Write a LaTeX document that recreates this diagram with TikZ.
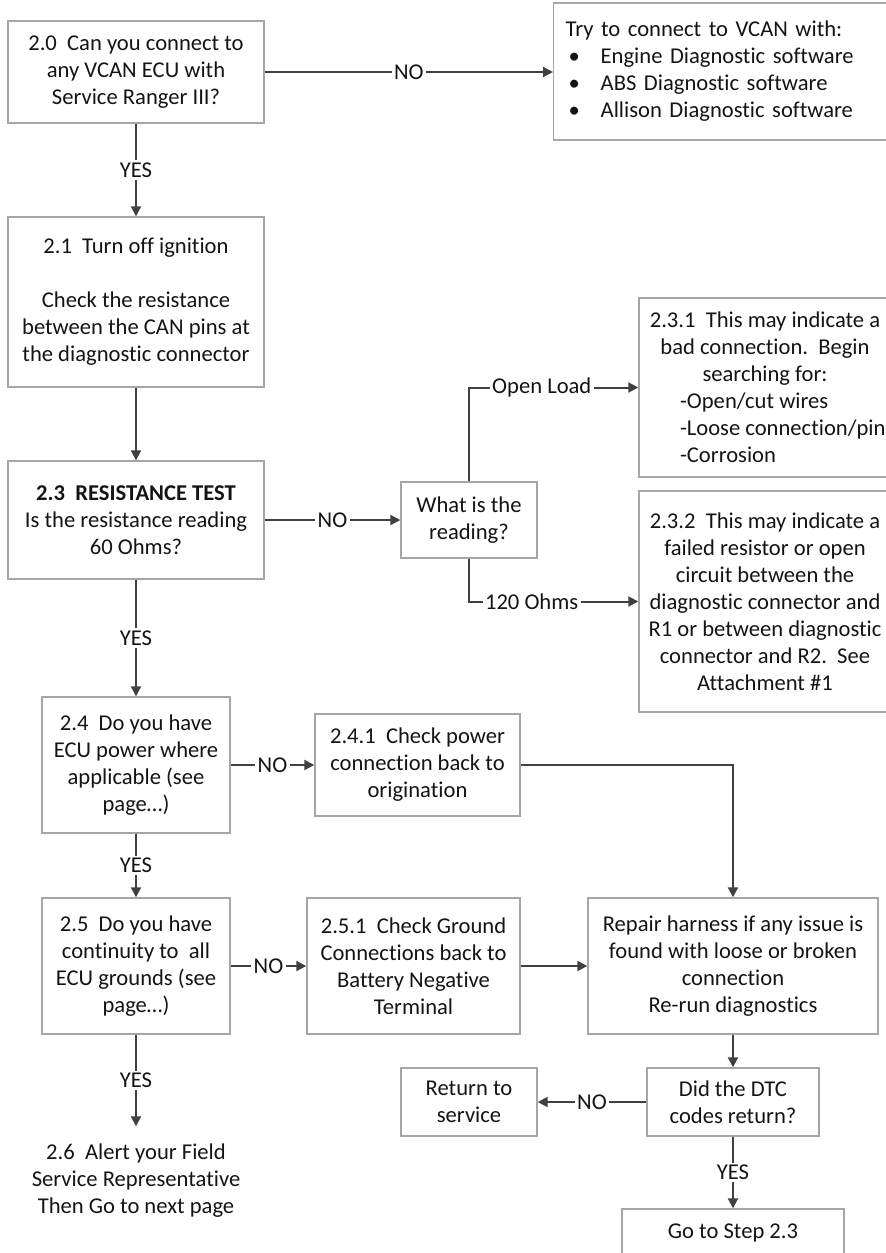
\documentclass[tikz,border=0pt]{standalone}
\usepackage{fontspec}
\setmainfont{Carlito}[Ligatures=CommonOff]
\usetikzlibrary{arrows.meta}
\definecolor{linegray}{HTML}{404040}
\definecolor{boxgray}{HTML}{A6A6A6}
\definecolor{txt}{HTML}{141414}
\def\bodyfont{\fontsize{11.3}{13.5}\selectfont}
\def\dashitem#1{\makebox[85pt][l]{#1}}
\def\bul{\makebox[17.5pt][l]{\hspace{1.5pt}\textbullet}}
\tikzset{
  box/.style={draw=boxgray, line width=0.7pt, align=center, inner sep=0pt, text=txt, font=\bodyfont},
  flow/.style={draw=linegray, line width=1pt, -{Triangle[length=5pt,width=5pt]}},
  lbl/.style={fill=white, inner sep=1.2pt, text=txt, font=\bodyfont}
}
\begin{document}
\begin{tikzpicture}[x=0.5pt, y=-0.5pt]
  \useasboundingbox (0,0) rectangle (886,1253);
  % left column
  \node[box, minimum width=128pt, minimum height=51pt] (q20) at (136,72)
    {2.0~~Can you connect to\\any VCAN ECU with\\Service Ranger III?};
  \node[box, minimum width=170pt, minimum height=68.5pt, text width=158pt, align=left, anchor=west] (vcan) at (553,71.5)
    {Try to connect to VCAN with:\\\bul Engine Diagnostic software\\\bul ABS Diagnostic software\\\bul Allison Diagnostic software};
  \node[box, minimum width=128pt, minimum height=85pt] (s21) at (136,302)
    {2.1~~Turn off ignition\\[13.5pt]Check the resistance\\between the CAN pins at\\the diagnostic connector};
  \node[box, minimum width=128pt, minimum height=59pt] (s23) at (136,520)
    {\textbf{2.3~~RESISTANCE TEST}\\Is the resistance reading\\60 Ohms?};
  \node[box, minimum width=68pt, minimum height=38pt] (read) at (469,520)
    {What is the\\reading?};
  \node[box, minimum width=126pt, minimum height=89.5pt] (s231) at (765,387.5)
    {2.3.1~~This may indicate a\\bad connection.~~Begin\\searching for:\\\dashitem{-Open/cut wires}\\\dashitem{-Loose connection/pin}\\\dashitem{-Corrosion}};
  \node[box, minimum width=126pt, minimum height=110.5pt] (s232) at (765,601.5)
    {2.3.2~~This may indicate a\\failed resistor or open\\circuit between the\\diagnostic connector and\\R1 or between diagnostic\\connector and R2.~~See\\Attachment \#1};
  \node[box, minimum width=94pt, minimum height=68pt] (s24) at (136,765)
    {2.4~~Do you have\\ECU power where\\applicable (see\\page…)};
  \node[box, minimum width=102.5pt, minimum height=51pt] (s241) at (417.5,765)
    {2.4.1~~Check power\\connection back to\\origination};
  \node[box, minimum width=94pt, minimum height=68pt] (s25) at (136,966)
    {2.5~~Do you have\\continuity to~~all\\ECU grounds (see\\page…)};
  \node[box, minimum width=106.5pt, minimum height=68pt] (s251) at (413.5,966)
    {2.5.1~~Check Ground\\Connections back to\\Battery Negative\\Terminal};
  \node[box, minimum width=145pt, minimum height=68pt] (fix) at (733,966)
    {Repair harness if any issue is\\found with loose or broken\\connection\\Re-run diagnostics};
  \node[box, draw=none, minimum height=53.5pt] (s26) at (136,1180.5)
    {2.6~~Alert your Field\\Service Representative\\Then Go to next page};
  \node[box, minimum width=86pt, minimum height=34pt] (dtc) at (733,1102)
    {Did the DTC\\codes return?};
  \node[box, minimum width=68pt, minimum height=34pt] (ret) at (469,1102)
    {Return to\\service};
  \node[box, minimum width=111pt, minimum height=24pt] (go) at (733,1233)
    {Go to Step 2.3};
  % connectors
  \draw[flow] (q20.east) -- node[lbl]{NO} (q20.east -| vcan.west);
  \draw[flow] (q20) -- node[lbl]{YES} (s21);
  \draw[flow] (s21) -- (s23);
  \draw[flow] (s23) -- node[lbl]{NO} (read);
  \draw[flow] (read.north) |- node[lbl, pos=0.715]{Open Load} (s231.west);
  \draw[flow] (read.south) |- node[lbl, pos=0.685]{120 Ohms} (s232.west);
  \draw[flow] (s23) -- node[lbl]{YES} (s24);
  \draw[flow] (s24) -- node[lbl]{NO} (s241);
  \draw[flow] (s241.east) -| (fix.north);
  \draw[flow] (s24) -- node[lbl]{YES} (s25);
  \draw[flow] (s25) -- node[lbl]{NO} (s251);
  \draw[flow] (s251) -- (fix);
  \draw[flow] (s25) -- node[lbl]{YES} (s26);
  \draw[flow] (fix) -- (dtc);
  \draw[flow] (dtc) -- node[lbl]{NO} (ret);
  \draw[flow] (dtc) -- node[lbl]{YES} (go);
\end{tikzpicture}
\end{document}
